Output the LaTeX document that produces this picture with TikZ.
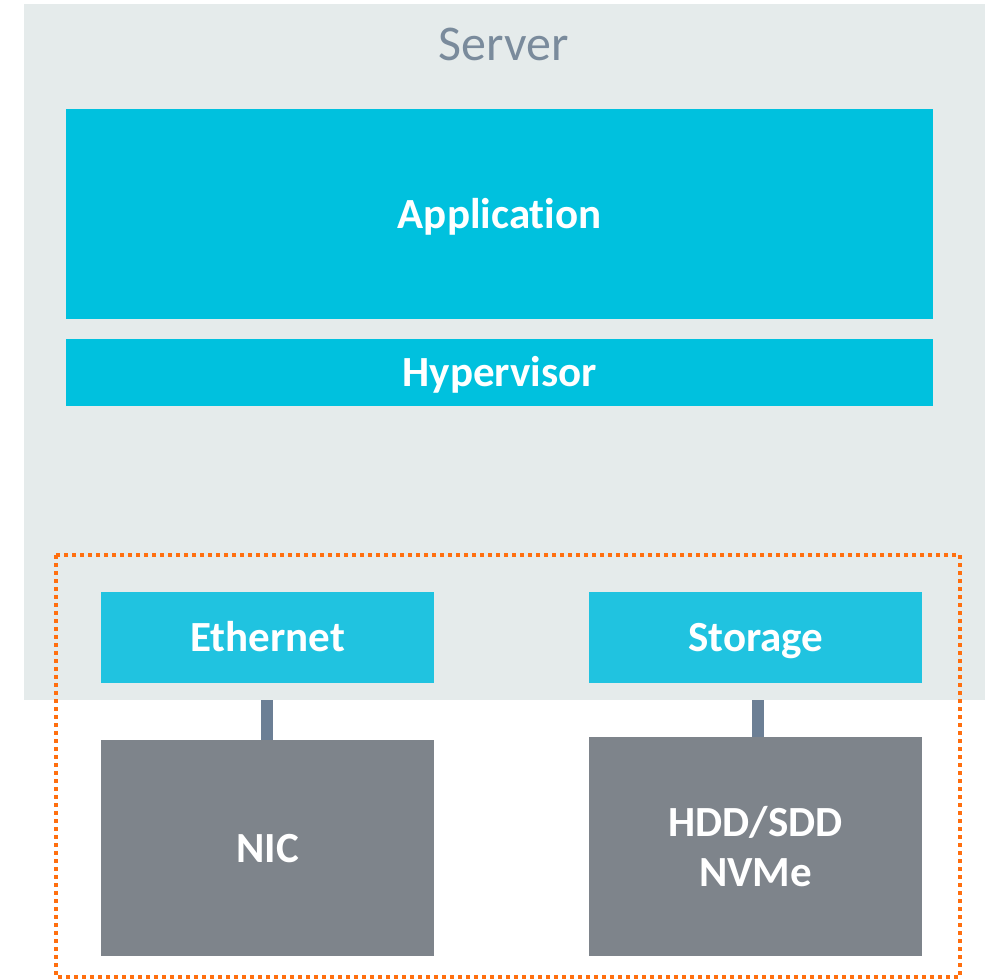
\documentclass[tikz,border=0pt]{standalone}
\usepackage{fontspec}
\setmainfont[Ligatures=CommonOff]{Carlito}
\usetikzlibrary{positioning}
\definecolor{serverbg}{HTML}{E5EBEB}
\definecolor{layercyan}{HTML}{00C1DE}
\definecolor{devcyan}{HTML}{20C3E0}
\definecolor{hwgray}{HTML}{7E848B}
\definecolor{linkblue}{HTML}{6C7F95}
\definecolor{titlegray}{HTML}{7A8B9C}
\definecolor{edgeorange}{HTML}{FF6F0F}
\tikzset{
  x=1pt, y=-1pt,
  capline/.style={text height=31pt, text depth=3pt},
  box/.style={draw=none, inner sep=0pt, anchor=north west, font=\bfseries\fontsize{43}{50}\selectfont, text=white, align=center},
  layer/.style={box, fill=layercyan, capline},
  device/.style={box, fill=devcyan, capline},
  hardware/.style={box, fill=hwgray},
  link/.style={draw=linkblue, line width=12pt},
  region/.style={draw=edgeorange, line width=4pt, dash pattern=on 4pt off 4pt}
}
\begin{document}
\begin{tikzpicture}
\useasboundingbox (0,0) rectangle (1000,979);
% server enclosure
\node[fill=serverbg, inner sep=0pt, anchor=north west, minimum width=961pt, minimum height=696pt] (server) at (24,4) {};
\node[text=titlegray, font=\fontsize{50}{58}\selectfont, inner sep=0pt, text height=36pt, text depth=4pt] (title) at (504,45) {Server};
% software layers
\node[layer, minimum width=867pt, minimum height=210pt] (app) at (66,109) {Application};
\node[layer, minimum width=867pt, minimum height=67pt] (hyp) at (66,339) {Hypervisor};
% device interfaces
\node[device, minimum width=333pt, minimum height=91pt] (eth) at (101,592) {Ethernet};
\node[device, minimum width=333pt, minimum height=91pt] (sto) at (589,592) {Storage};
% physical hardware
\node[hardware, capline, minimum width=333pt, minimum height=216pt] (nic) at (101,740) {NIC};
\node[hardware, minimum width=333pt, minimum height=219pt] (disk) at (589,737) {HDD/SDD\\NVMe};
% links from the server edge to the hardware
\coordinate (ethlink) at ([xshift=-0.5pt]eth.south |- server.south);
\coordinate (stolink) at ([xshift=2pt]sto.south |- server.south);
\draw[link] (ethlink) -- (ethlink |- nic.north);
\draw[link] (stolink) -- (disk.north -| stolink);
% dotted hardware region
\draw[region] (56,555) rectangle (960,977);
\end{tikzpicture}
\end{document}
